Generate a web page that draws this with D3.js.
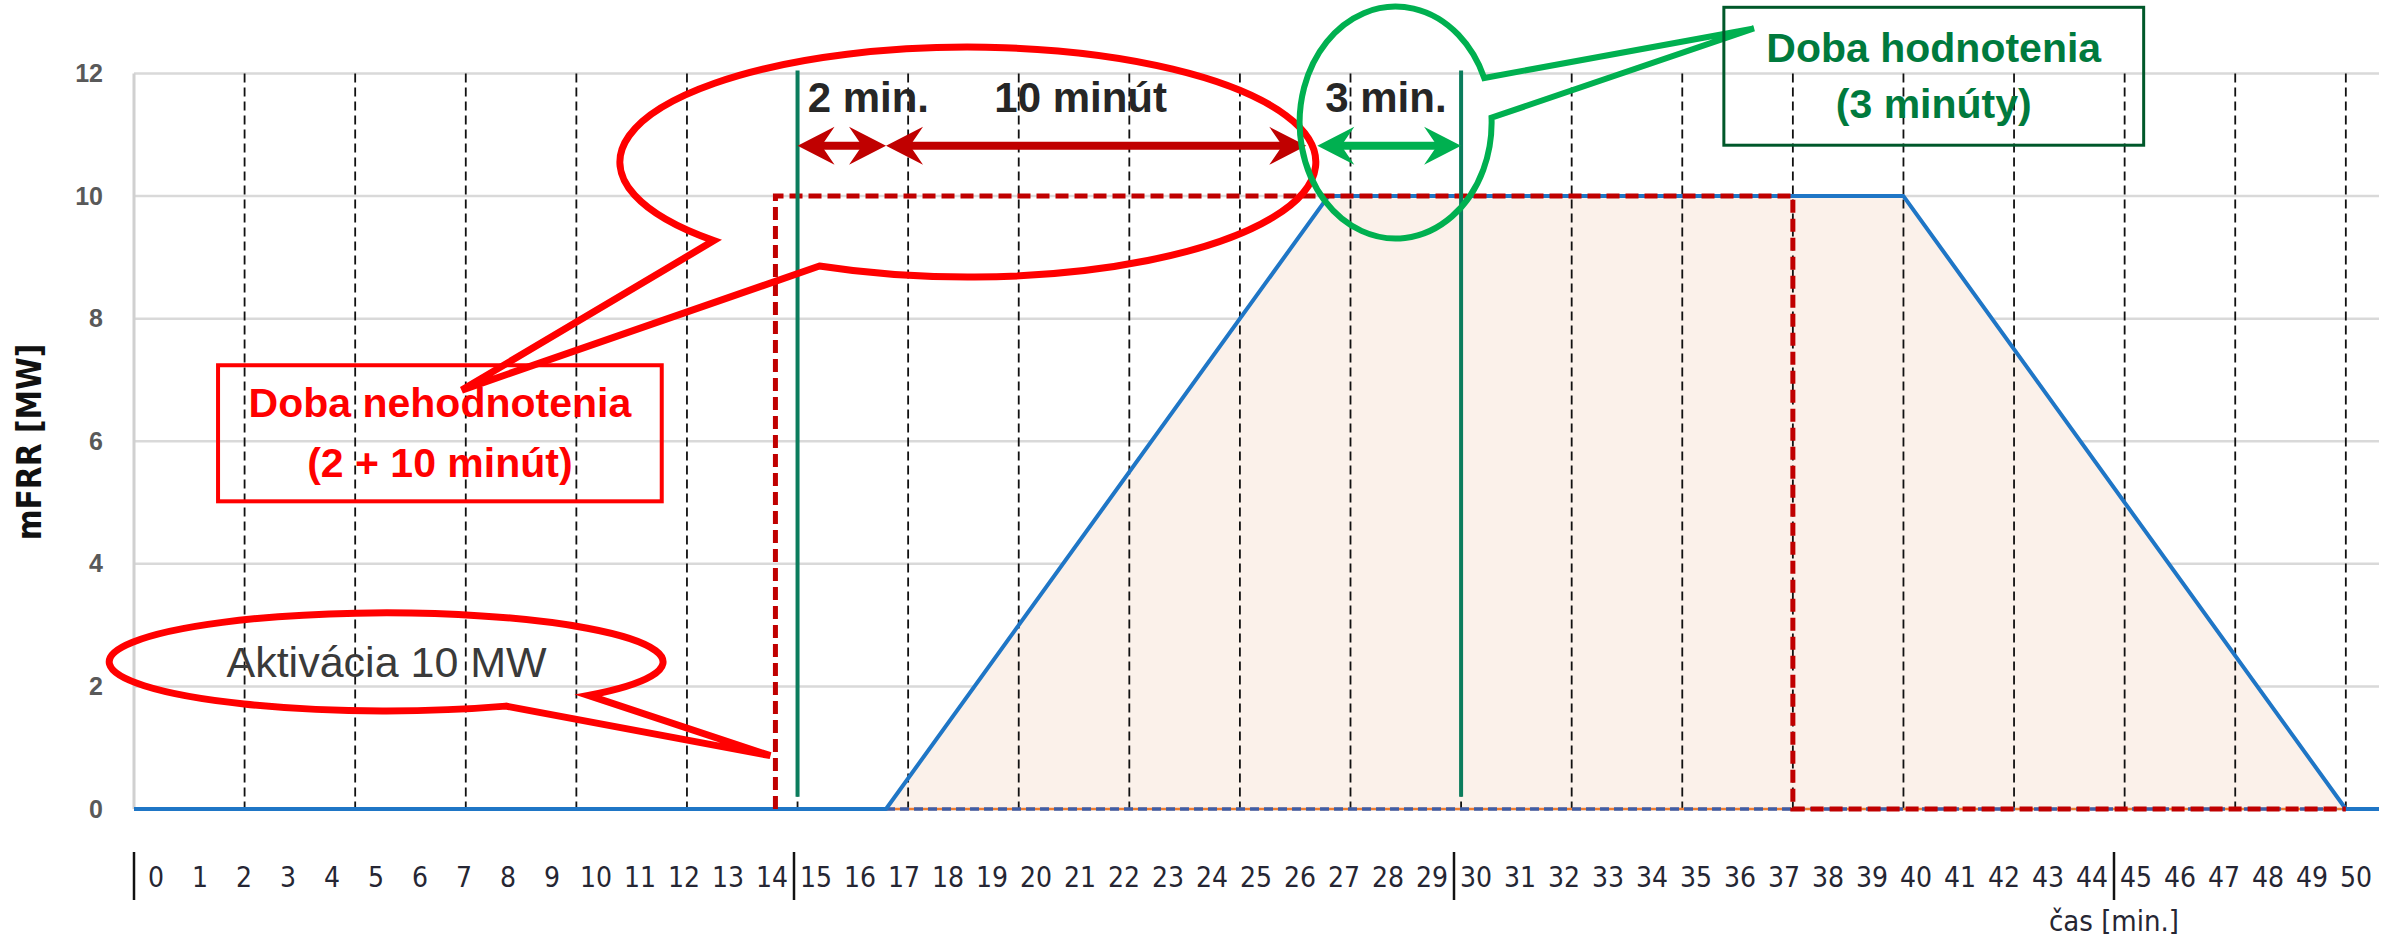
<!DOCTYPE html>
<html>
<head>
<meta charset="utf-8">
<script src="https://cdn.jsdelivr.net/npm/d3@7"></script>
<style>
  body { margin: 0; background: #fff; }
  svg { display: block; }
</style>
</head>
<body>
<div id="chart"></div>
<script>
// minute labels under the chart
var tickLabels = [0,1,2,3,4,5,6,7,8,9,10,11,12,13,14,15,16,17,18,19,20,21,22,23,24,25,
                  26,27,28,29,30,31,32,33,34,35,36,37,38,39,40,41,42,43,44,45,46,47,48,49,50];
var groupStarts = [0, 15, 30, 45];
var yTicks = [0, 2, 4, 6, 8, 10, 12];
// dashed vertical gridlines (every 2.5 min)
var gridMinutes = [2.5,5,7.5,10,12.5,15,17.5,20,22.5,25,27.5,30,32.5,35,37.5,40,42.5,45,47.5,50];

// delivered mFRR (blue)
var activMinutes = [0, 17, 27, 40, 50, 50.75];
var activMW      = [0, 0, 10, 10, 0, 0];
// requested activation (red dashed)
var requestMinutes = [14.5, 14.5, 37.5, 37.5, 50];
var requestMW      = [0, 10, 10, 0, 0];
// dashed zero series
var zeroMinutes = [17, 50];
var zeroMW      = [0, 0];
// evaluation window borders (green)
var evalMinutes = [15, 30];
var evalSpan    = [0.2, 12.05];

// period arrows
var arrowFrom   = [15, 17, 26.75];
var arrowTo     = [17, 26.5, 30];
var arrowTexts  = ["2 min.", "10 minút", "3 min."];
var arrowTextAt = [16.6, 21.4, 28.3];
var arrowLevel = 10.82, arrowTextLevel = 11.37;

// callouts (minutes / MW)
var bigBubble   = {cx: 18.85, cy: 10.555, rx: 7.866, ry: 1.876, gap: [223.1, 244.75], tip: [7.41, 6.835]};
var smallBubble = {cx: 5.70, cy: 2.40, rx: 6.26, ry: 0.80, gap: [-64.4, -43.1], tip: [14.385, 0.87]};
var greenBubble = {cx: 28.52, cy: 11.20, rx: 2.17, ry: 1.892, gap: [2.4, 22.6], tip: [36.62, 12.735]};
var redBox   = {x: [1.90, 11.93], y: [5.02, 7.24], lines: ["Doba nehodnotenia", "(2 + 10 minút)"], base: [6.395, 5.416]};
var greenBox = {x: [35.94, 45.43], y: [10.83, 13.08], lines: ["Doba hodnotenia", "(3 minúty)"], base: [12.186, 11.272]};
var activText = {text: "Aktivácia 10 MW", m: 5.71, v: 2.16};

var width = 2392, height = 939;
var narrow = "'Liberation Sans Narrow', 'DejaVu Sans Condensed', sans-serif";
var sans = "'Liberation Sans', Arial, sans-serif";

var svg = d3.select('#chart').append('svg')
    .attr('width', width)
    .attr('height', height);

var x = d3.scaleLinear().domain([0, 50.75]).range([134, 2379]);
var y = d3.scaleLinear().domain([0, 12]).range([809, 73.5]);
var xLabel = d3.scaleBand().domain(tickLabels).range([134, 2378]);

// horizontal gridlines
svg.append('g').selectAll('line')
    .data(yTicks).enter().append('line')
    .attr('x1', x(0)).attr('x2', x(x.domain()[1]))
    .attr('y1', function(d) { return y(d); })
    .attr('y2', function(d) { return y(d); })
    .attr('stroke', '#d9d9d9')
    .attr('stroke-width', 2.5);

svg.append('line')
    .attr('x1', x(0)).attr('x2', x(0))
    .attr('y1', y(12)).attr('y2', y(0))
    .attr('stroke', '#d0d0d0')
    .attr('stroke-width', 3);

// Y axis
svg.append('g')
    .attr('transform', 'translate(103,0)')
    .call(d3.axisLeft(y).tickValues(yTicks).tickSize(0).tickPadding(0))
    .call(function(g) { g.select('.domain').remove(); })
    .selectAll('text')
    .attr('font-family', sans)
    .attr('font-size', 25)
    .attr('font-weight', 'bold')
    .attr('fill', '#595959');

svg.append('text')
    .attr('transform', 'translate(29,442) rotate(-90)')
    .attr('text-anchor', 'middle')
    .attr('dominant-baseline', 'central')
    .attr('font-family', narrow)
    .attr('font-weight', 'bold')
    .attr('font-size', 33)
    .attr('fill', '#111')
    .text('mFRR [MW]');

var activ = activMinutes.map(function(m, i) { return {m: m, v: activMW[i]}; });
var request = requestMinutes.map(function(m, i) { return {m: m, v: requestMW[i]}; });
var zero = zeroMinutes.map(function(m, i) { return {m: m, v: zeroMW[i]}; });
var line = d3.line().x(function(d) { return x(d.m); }).y(function(d) { return y(d.v); });

// area under the delivered energy
svg.append('path')
    .datum(activ)
    .attr('d', d3.area().x(function(d) { return x(d.m); }).y0(y(0)).y1(function(d) { return y(d.v); }))
    .attr('fill', '#fbf1ea');

// dashed vertical gridlines
svg.append('g').selectAll('line')
    .data(gridMinutes).enter().append('line')
    .attr('x1', function(d) { return x(d); })
    .attr('x2', function(d) { return x(d); })
    .attr('y1', y(12)).attr('y2', y(0))
    .attr('stroke', '#111')
    .attr('stroke-width', 1.8)
    .attr('stroke-dasharray', '9,5');

// zero series (orange + blue dashes)
svg.append('path').datum(zero).attr('d', line)
    .attr('fill', 'none').attr('stroke', '#ed7d31').attr('stroke-width', 2.5);
svg.append('path').datum(zero).attr('d', line)
    .attr('fill', 'none').attr('stroke', '#3f5ea6').attr('stroke-width', 3.5)
    .attr('stroke-dasharray', '9,5');

// delivered
svg.append('path').datum(activ).attr('d', line)
    .attr('fill', 'none').attr('stroke', '#1f76c6').attr('stroke-width', 4)
    .attr('stroke-linejoin', 'round');

// requested
svg.append('path').datum(request).attr('d', line)
    .attr('fill', 'none').attr('stroke', '#c00000').attr('stroke-width', 5)
    .attr('stroke-dasharray', '13,6');

// evaluation borders
svg.append('g').selectAll('line')
    .data(evalMinutes).enter().append('line')
    .attr('x1', function(d) { return x(d); })
    .attr('x2', function(d) { return x(d); })
    .attr('y1', y(evalSpan[1])).attr('y2', y(evalSpan[0]))
    .attr('stroke', '#0b7d5d')
    .attr('stroke-width', 4);

// arrows
function head(tx, ty, dir) {
    return [[tx, ty], [tx - dir * 37, ty - 19], [tx - dir * 24, ty], [tx - dir * 37, ty + 19]];
}
arrowFrom.forEach(function(a, i) {
    var col = i < 2 ? '#c00000' : '#00b050';
    var x0 = x(a), x1 = x(arrowTo[i]), ay = y(arrowLevel);
    svg.append('line')
        .attr('x1', x0 + 20).attr('x2', x1 - 20)
        .attr('y1', ay).attr('y2', ay)
        .attr('stroke', col).attr('stroke-width', 8);
    svg.append('polygon').attr('points', head(x0, ay, -1).join(' ')).attr('fill', col);
    svg.append('polygon').attr('points', head(x1, ay, 1).join(' ')).attr('fill', col);
    svg.append('text')
        .attr('x', x(arrowTextAt[i])).attr('y', y(arrowTextLevel))
        .attr('text-anchor', 'middle')
        .attr('font-family', sans).attr('font-weight', 'bold').attr('font-size', 42)
        .attr('fill', '#262626')
        .text(arrowTexts[i]);
});

// callout bubbles
function bubblePath(b) {
    var rxp = x(b.rx) - x(0), ryp = y(0) - y(b.ry);
    function pt(deg) {
        var t = deg * Math.PI / 180;
        return [x(b.cx) + rxp * Math.cos(t), y(b.cy) - ryp * Math.sin(t)];
    }
    var p1 = pt(b.gap[1]), p2 = pt(b.gap[0]);
    return 'M' + p1 + ' A' + rxp + ',' + ryp + ' 0 1 0 ' + p2 +
           ' L' + x(b.tip[0]) + ',' + y(b.tip[1]) + ' Z';
}
svg.append('path').attr('d', bubblePath(bigBubble))
    .attr('fill', 'none').attr('stroke', '#ff0000').attr('stroke-width', 7)
    .attr('stroke-linejoin', 'miter');
svg.append('path').attr('d', bubblePath(smallBubble))
    .attr('fill', 'none').attr('stroke', '#ff0000').attr('stroke-width', 7);
svg.append('path').attr('d', bubblePath(greenBubble))
    .attr('fill', 'none').attr('stroke', '#00b050').attr('stroke-width', 6);

svg.append('text')
    .attr('x', x(activText.m)).attr('y', y(activText.v))
    .attr('text-anchor', 'middle')
    .attr('font-family', sans).attr('font-size', 43)
    .attr('fill', '#3a3a3a')
    .text(activText.text);

// text boxes
function textBox(b, stroke, sw, fill) {
    svg.append('rect')
        .attr('x', x(b.x[0])).attr('y', y(d3.max(b.y)))
        .attr('width', x(b.x[1]) - x(b.x[0]))
        .attr('height', y(d3.min(b.y)) - y(d3.max(b.y)))
        .attr('fill', 'none').attr('stroke', stroke).attr('stroke-width', sw);
    b.lines.forEach(function(t, i) {
        svg.append('text')
            .attr('x', (x(b.x[0]) + x(b.x[1])) / 2).attr('y', y(b.base[i]))
            .attr('text-anchor', 'middle')
            .attr('font-family', sans).attr('font-weight', 'bold').attr('font-size', 41)
            .attr('fill', fill)
            .text(t);
    });
}
textBox(redBox, '#ff0000', 4, '#ff0000');
textBox(greenBox, '#00582a', 3, '#007a3d');

// minute labels row
svg.append('g')
    .attr('transform', 'translate(0,877)')
    .call(d3.axisBottom(xLabel).tickSize(0).tickPadding(0))
    .call(function(g) { g.select('.domain').remove(); })
    .selectAll('text')
    .attr('y', 0).attr('dy', '0.36em')
    .attr('font-family', narrow)
    .attr('font-size', 28)
    .attr('fill', '#262633');

svg.append('g').selectAll('line')
    .data(groupStarts).enter().append('line')
    .attr('x1', function(d) { return xLabel(d); })
    .attr('x2', function(d) { return xLabel(d); })
    .attr('y1', 852).attr('y2', 900)
    .attr('stroke', '#111').attr('stroke-width', 2.5);

svg.append('text')
    .attr('x', xLabel(45)).attr('y', 921)
    .attr('text-anchor', 'middle')
    .attr('dominant-baseline', 'central')
    .attr('font-family', narrow)
    .attr('font-size', 29)
    .attr('fill', '#262633')
    .text('čas [min.]');
</script>
</body>
</html>
